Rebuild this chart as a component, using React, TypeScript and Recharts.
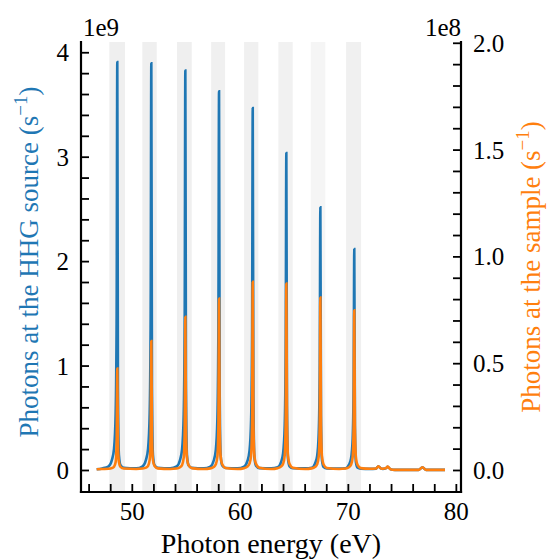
import React from "react";
import { ComposedChart, Line, XAxis, YAxis, ReferenceArea, Label } from "recharts";

// photon energy (eV)
const energy = [
  46.7,
  47.21, 47.81, 48.11, 48.31, 48.46, 48.55, 48.61, 48.67, 48.76, 48.91, 49.21,
  50.36, 50.96, 51.26, 51.46, 51.61, 51.7, 51.76, 51.82, 51.91, 52.06, 52.36,
  53.51, 54.11, 54.41, 54.61, 54.76, 54.85, 54.91, 54.97, 55.06, 55.21, 55.51,
  56.63, 57.23, 57.53, 57.73, 57.88, 57.97, 58.03, 58.09, 58.18, 58.33, 58.63,
  59.75, 60.35, 60.65, 60.85, 61.0, 61.09, 61.15, 61.21, 61.3, 61.45, 61.75,
  62.86, 63.46, 63.76, 63.96, 64.11, 64.2, 64.26, 64.32, 64.41, 64.56, 64.86,
  66.01, 66.61, 66.91, 67.11, 67.26, 67.35, 67.41, 67.47, 67.56, 67.71, 68.01,
  69.15, 69.75, 70.05, 70.25, 70.4, 70.49, 70.55, 70.61, 70.7, 70.85, 71.15,
  72.0, 72.55, 72.78, 73.0, 73.2, 73.45, 73.65, 73.9, 74.3, 75.5, 76.5, 76.86, 77.2, 78.0, 78.95,
];

// photons at the HHG source (x 1e9 s^-1)
const hhgSource = [
  0.012,
  0.02, 0.04, 0.1, 0.21, 0.55, 1.5, 3.91, 0.8, 0.15, 0.05, 0.025,
  0.02, 0.04, 0.1, 0.21, 0.55, 1.5, 3.9, 0.8, 0.15, 0.05, 0.025,
  0.02, 0.039, 0.098, 0.205, 0.54, 1.47, 3.83, 0.78, 0.147, 0.049, 0.025,
  0.02, 0.037, 0.093, 0.195, 0.51, 1.4, 3.63, 0.74, 0.14, 0.047, 0.024,
  0.02, 0.036, 0.089, 0.187, 0.49, 1.34, 3.47, 0.71, 0.134, 0.045, 0.023,
  0.02, 0.031, 0.078, 0.164, 0.43, 1.17, 3.04, 0.62, 0.117, 0.04, 0.022,
  0.02, 0.026, 0.065, 0.136, 0.36, 0.97, 2.52, 0.52, 0.098, 0.033, 0.02,
  0.018, 0.022, 0.054, 0.114, 0.3, 0.82, 2.12, 0.43, 0.081, 0.027, 0.018,
  0.015, 0.018, 0.04, 0.02, 0.015, 0.02, 0.035, 0.012, 0.006, 0.006, 0.006, 0.03, 0.006, 0.006, 0.006,
];

// photons at the sample (x 1e8 s^-1)
const atSample = [
  0.006,
  0.007, 0.008, 0.011, 0.018, 0.04, 0.13, 0.477, 0.13, 0.04, 0.017, 0.009,
  0.007, 0.009, 0.013, 0.022, 0.05, 0.16, 0.606, 0.16, 0.05, 0.021, 0.01,
  0.007, 0.009, 0.015, 0.026, 0.06, 0.19, 0.719, 0.19, 0.06, 0.025, 0.011,
  0.007, 0.01, 0.016, 0.029, 0.066, 0.21, 0.805, 0.21, 0.066, 0.028, 0.012,
  0.007, 0.011, 0.018, 0.032, 0.072, 0.23, 0.883, 0.23, 0.072, 0.031, 0.013,
  0.007, 0.011, 0.018, 0.031, 0.071, 0.23, 0.875, 0.23, 0.071, 0.03, 0.013,
  0.007, 0.01, 0.016, 0.029, 0.066, 0.21, 0.81, 0.21, 0.066, 0.028, 0.012,
  0.007, 0.009, 0.015, 0.027, 0.062, 0.2, 0.75, 0.2, 0.062, 0.026, 0.011,
  0.008, 0.009, 0.02, 0.01, 0.008, 0.01, 0.018, 0.006, 0.003, 0.003, 0.003, 0.015, 0.003, 0.003, 0.003,
];

// shaded harmonic windows (eV)
const bandStart = [47.87, 50.93, 54.14, 57.3, 60.35, 63.52, 66.52, 69.79];
const bandEnd = [49.32, 52.26, 55.5, 58.59, 61.67, 64.85, 67.87, 71.18];
const bandFill = ["#efefef", "#efefef", "#efefef", "#f0f0f0", "#f0f0f0", "#f1f1f1", "#f5f5f5", "#f0f0f0"];

const xTicks = [46, 48, 50, 52, 54, 56, 58, 60, 62, 64, 66, 68, 70, 72, 74, 76, 78, 80];
const xLabels = [50, 60, 70, 80];
const leftTicks = [0, 0.2, 0.4, 0.6, 0.8, 1, 1.2, 1.4, 1.6, 1.8, 2, 2.2, 2.4, 2.6, 2.8, 3, 3.2, 3.4, 3.6, 3.8, 4];
const leftLabels = [0, 1, 2, 3, 4];
const rightTicks = [0, 0.1, 0.2, 0.3, 0.4, 0.5, 0.6, 0.7, 0.8, 0.9, 1, 1.1, 1.2, 1.3, 1.4, 1.5, 1.6, 1.7, 1.8, 1.9, 2];
const rightLabels = [0, 0.5, 1, 1.5, 2];

const data = energy.map((e, i) => ({ energy: e, hhg: hhgSource[i], sample: atSample[i] }));

const FONT = "Liberation Serif, DejaVu Serif, serif";
const BLUE = "#1f77b4";
const ORANGE = "#ff7f0e";
const TICK_LEN = 8;
const TICK_FS = 25;
const TITLE_FS = 27;
const axisLine = { stroke: "#000", strokeWidth: 2.2, strokeLinecap: "square" as const };

function BottomTick(props: any) {
  const { x, y, payload } = props;
  const v = payload.value;
  return (
    <g>
      <line x1={x} x2={x} y1={y} y2={y - TICK_LEN} stroke="#000" strokeWidth={1.8} />
      {xLabels.includes(v) && (
        <text x={x} y={y + 28} textAnchor="middle" fontSize={TICK_FS} fontFamily={FONT} fill="#000">
          {v}
        </text>
      )}
    </g>
  );
}

function LeftTick(props: any) {
  const { x, y, payload } = props;
  const v = payload.value;
  return (
    <g>
      <line x1={x} x2={x + TICK_LEN} y1={y} y2={y} stroke="#000" strokeWidth={1.8} />
      {leftLabels.includes(v) && (
        <text x={x - 12} y={y + 8.5} textAnchor="end" fontSize={TICK_FS} fontFamily={FONT} fill="#000">
          {v}
        </text>
      )}
    </g>
  );
}

function RightTick(props: any) {
  const { x, y, payload } = props;
  const v = payload.value;
  return (
    <g>
      <line x1={x} x2={x - TICK_LEN} y1={y} y2={y} stroke="#000" strokeWidth={1.8} />
      {rightLabels.includes(v) && (
        <text x={x + 12} y={y + 8.5} textAnchor="start" fontSize={TICK_FS} fontFamily={FONT} fill="#000">
          {v.toFixed(1)}
        </text>
      )}
    </g>
  );
}

function AxisTitle({ cx, cy, text, color, exp }: { cx: number; cy: number; text: string; color: string; exp: string }) {
  return (
    <g>
      <text
        x={cx}
        y={cy}
        transform={`rotate(-90, ${cx}, ${cy})`}
        textAnchor="middle"
        fontSize={TITLE_FS}
        fontFamily={FONT}
        fill={color}
      >
        {text}
        <tspan dy={-11} fontSize={19}>{"\u22121"}</tspan>
        <tspan dy={11}>)</tspan>
      </text>
      <text
        x={exp === "1e9" ? 83 : 461}
        y={36}
        textAnchor={exp === "1e9" ? "start" : "end"}
        fontSize={TICK_FS}
        fontFamily={FONT}
        fill="#000"
      >
        {exp}
      </text>
    </g>
  );
}

export default function App() {
  return (
    <div style={{ position: "absolute", left: 0, top: 0, width: 548, height: 560, background: "#fff" }}>
      <ComposedChart width={548} height={560} data={data} margin={{ top: 42, right: 0, bottom: 0, left: 0 }}>
        {bandStart.map((s, i) => (
          <ReferenceArea
            key={i}
            xAxisId="bottom"
            yAxisId="left"
            x1={s}
            x2={bandEnd[i]}
            fill={bandFill[i]}
            fillOpacity={1}
            stroke="none"
          />
        ))}
        <XAxis
          xAxisId="bottom"
          dataKey="energy"
          type="number"
          domain={[45.25, 80.43]}
          allowDataOverflow
          ticks={xTicks}
          interval={0}
          height={68}
          tickSize={0}
          tickMargin={0}
          tickLine={false}
          axisLine={axisLine}
          tick={<BottomTick />}
        >
          <Label
            content={() => (
              <text x={271} y={553} textAnchor="middle" fontSize={28} fontFamily={FONT} fill="#000">
                Photon energy (eV)
              </text>
            )}
          />
        </XAxis>
        <XAxis
          xAxisId="top"
          orientation="top"
          type="number"
          domain={[45.25, 80.43]}
          allowDataOverflow
          height={0}
          tick={false}
          tickLine={false}
          axisLine={axisLine}
        />
        <YAxis
          yAxisId="left"
          type="number"
          domain={[-0.206, 4.103]}
          allowDataOverflow
          ticks={leftTicks}
          interval={0}
          width={81}
          tickSize={0}
          tickMargin={0}
          tickLine={false}
          axisLine={axisLine}
          tick={<LeftTick />}
        >
          <Label
            content={() => (
              <AxisTitle cx={38} cy={262} text="Photons at the HHG source (s" color={BLUE} exp="1e9" />
            )}
          />
        </YAxis>
        <YAxis
          yAxisId="right"
          orientation="right"
          type="number"
          domain={[-0.1007, 2.006]}
          allowDataOverflow
          ticks={rightTicks}
          interval={0}
          width={87}
          tickSize={0}
          tickMargin={0}
          tickLine={false}
          axisLine={axisLine}
          tick={<RightTick />}
        >
          <Label
            content={() => (
              <AxisTitle cx={540} cy={267} text="Photons at the sample (s" color={ORANGE} exp="1e8" />
            )}
          />
        </YAxis>
        <Line
          xAxisId="bottom"
          yAxisId="left"
          dataKey="hhg"
          type="monotone"
          stroke={BLUE}
          strokeWidth={2.6}
          dot={false}
          isAnimationActive={false}
        />
        <Line
          xAxisId="bottom"
          yAxisId="right"
          dataKey="sample"
          type="monotone"
          stroke={ORANGE}
          strokeWidth={2.6}
          dot={false}
          isAnimationActive={false}
        />
      </ComposedChart>
    </div>
  );
}
